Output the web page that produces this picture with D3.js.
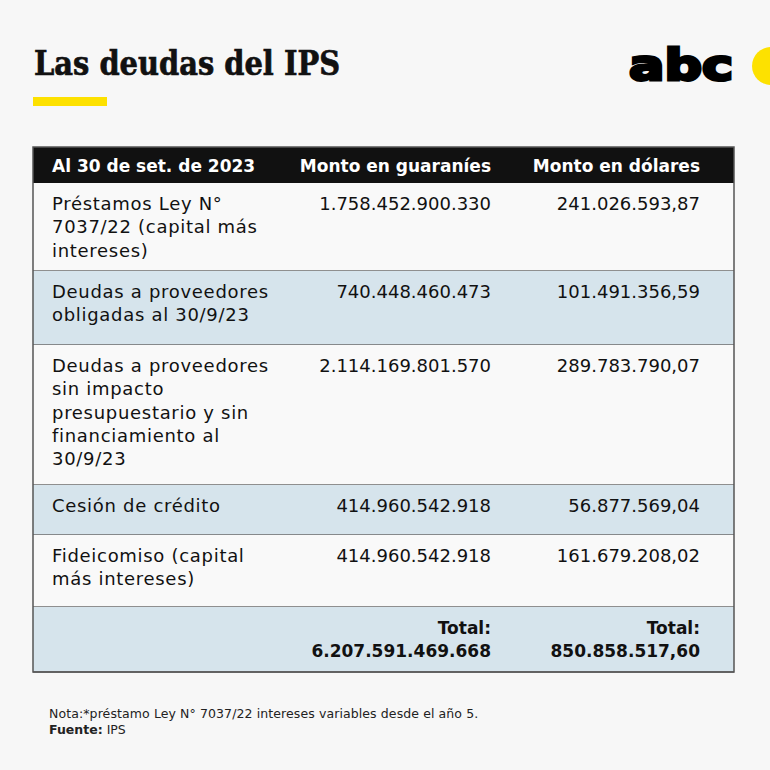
<!DOCTYPE html>
<html>
<head>
<meta charset="utf-8">
<script src="https://cdn.jsdelivr.net/npm/d3@7"></script>
<style>
  body { margin: 0; background: #f7f7f7; }
</style>
</head>
<body>
<svg></svg>
<script>
const WIDTH = 770;
const HEIGHT = 770;

const headers = ['Al 30 de set. de 2023', 'Monto en guaraníes', 'Monto en dólares'];
const categories = [
  'Préstamos Ley N°\n7037/22 (capital más\nintereses)',
  'Deudas a proveedores\nobligadas al 30/9/23',
  'Deudas a proveedores\nsin impacto\npresupuestario y sin\nfinanciamiento al\n30/9/23',
  'Cesión de crédito',
  'Fideicomiso (capital\nmás intereses)'
];
const guaranies = ['1.758.452.900.330', '740.448.460.473', '2.114.169.801.570', '414.960.542.918', '414.960.542.918'];
const dolares = ['241.026.593,87', '101.491.356,59', '289.783.790,07', '56.877.569,04', '161.679.208,02'];
const totals = ['6.207.591.469.668', '850.858.517,60'];

const TABLE_LEFT = 33;
const TABLE_RIGHT = 734;
const HEADER_TOP = 147;
const HEADER_H = 36;
const LINE_H = 23.3;
const ROW_H = [88, 74, 140, 50, 72, 65];
const FONT = '"DejaVu Sans", sans-serif';

const svg = d3.select('svg')
  .attr('width', WIDTH)
  .attr('height', HEIGHT)
  .attr('font-family', FONT);

svg.append('rect')
  .attr('width', WIDTH).attr('height', HEIGHT)
  .attr('fill', '#f7f7f7');

// title + yellow bar
svg.append('text')
  .text('Las deudas del IPS')
  .attr('x', 34)
  .attr('y', 75)
  .attr('font-family', '"DejaVu Serif", serif')
  .attr('font-weight', 'bold')
  .attr('font-size', 33)
  .attr('textLength', 306)
  .attr('lengthAdjust', 'spacingAndGlyphs')
  .attr('stroke', '#111')
  .attr('stroke-width', 0.7)
  .attr('fill', '#111');

svg.append('rect')
  .attr('x', 33).attr('y', 97)
  .attr('width', 74).attr('height', 9)
  .attr('fill', '#fde100');

// logo
svg.append('text')
  .text('abc')
  .attr('x', 629)
  .attr('y', 80)
  .attr('font-family', '"DejaVu Sans", sans-serif')
  .attr('font-weight', 'bold')
  .attr('font-size', 42)
  .attr('textLength', 104)
  .attr('lengthAdjust', 'spacingAndGlyphs')
  .attr('stroke', '#000')
  .attr('stroke-width', 3)
  .attr('fill', '#000');

svg.append('circle')
  .attr('cx', 771).attr('cy', 66).attr('r', 19)
  .attr('fill', '#fde100');

// column scale: left edge for the label column, right edges for number columns
const colX = d3.scaleOrdinal()
  .domain([0, 1, 2])
  .range([52, 491, 700]);
const colAnchor = d => d === 0 ? 'start' : 'end';

// rows
const rows = categories.map((c, i) => ({
  lines: c.split('\n'),
  values: [guaranies[i], dolares[i]],
  bold: false
}));
rows.push({ lines: [''], values: ['Total:\n' + totals[0], 'Total:\n' + totals[1]], bold: true });

let yTop = HEADER_TOP + HEADER_H;
rows.forEach((r, i) => {
  r.y0 = yTop;
  r.h = ROW_H[i];
  yTop += r.h;
});
const tableBottom = yTop;

const rowG = svg.selectAll('g.row')
  .data(rows)
  .enter()
  .append('g')
  .attr('class', 'row')
  .attr('transform', d => `translate(0, ${d.y0})`);

rowG.append('rect')
  .attr('x', TABLE_LEFT)
  .attr('width', TABLE_RIGHT - TABLE_LEFT)
  .attr('height', d => d.h)
  .attr('fill', (d, i) => i % 2 === 1 ? '#d6e4ec' : '#f9f9f9');

rowG.append('line')
  .attr('x1', TABLE_LEFT).attr('x2', TABLE_RIGHT)
  .attr('y1', d => d.h).attr('y2', d => d.h)
  .attr('stroke', '#6b6b6b')
  .attr('stroke-width', 1.5);

function addCell(g, text, col, bold) {
  const t = g.append('text')
    .attr('x', colX(col))
    .attr('y', 27)
    .attr('text-anchor', colAnchor(col))
    .attr('font-size', bold ? 17 : 18)
    .attr('letter-spacing', col === 0 ? 0.7 : 0)
    .attr('font-weight', bold ? 'bold' : 'normal')
    .attr('fill', '#111');
  text.split('\n').forEach((l, k) => {
    t.append('tspan')
      .attr('x', colX(col))
      .attr('dy', k === 0 ? 0 : LINE_H)
      .text(l);
  });
}

rowG.each(function(d) {
  const g = d3.select(this);
  addCell(g, d.lines.join('\n'), 0, d.bold);
  addCell(g, d.values[0], 1, d.bold);
  addCell(g, d.values[1], 2, d.bold);
});

// header
svg.append('rect')
  .attr('x', TABLE_LEFT).attr('y', HEADER_TOP)
  .attr('width', TABLE_RIGHT - TABLE_LEFT).attr('height', HEADER_H)
  .attr('fill', '#111');

svg.selectAll('text.header')
  .data(headers)
  .enter()
  .append('text')
  .attr('class', 'header')
  .attr('x', (d, i) => colX(i))
  .attr('y', HEADER_TOP + 25)
  .attr('text-anchor', (d, i) => colAnchor(i))
  .attr('font-size', 17)
  .attr('font-weight', 'bold')
  .attr('fill', '#fff')
  .text(d => d);

// outer border
svg.append('rect')
  .attr('x', TABLE_LEFT).attr('y', HEADER_TOP)
  .attr('width', TABLE_RIGHT - TABLE_LEFT)
  .attr('height', tableBottom - HEADER_TOP)
  .attr('fill', 'none')
  .attr('stroke', '#555')
  .attr('stroke-width', 1.5);

// footer
svg.append('text')
  .text('Nota:*préstamo Ley N° 7037/22 intereses variables desde el año 5.')
  .attr('x', 49).attr('y', 718)
  .attr('font-size', 12.5)
  .attr('letter-spacing', 0.1)
  .attr('fill', '#222');

const src = svg.append('text')
  .attr('x', 49).attr('y', 734)
  .attr('font-size', 12.5)
  .attr('fill', '#222');
src.append('tspan').attr('font-weight', 'bold').text('Fuente:');
src.append('tspan').text(' IPS');
</script>
</body>
</html>
